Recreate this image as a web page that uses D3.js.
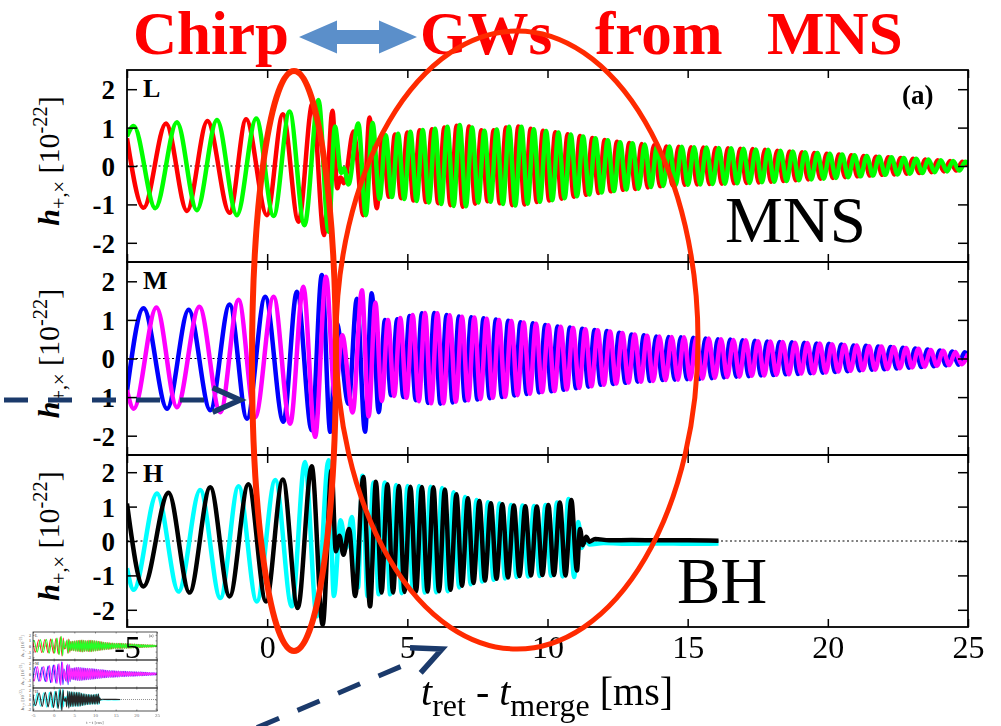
<!DOCTYPE html>
<html lang="en">
<head>
<meta charset="UTF-8">
<title>GW waveforms L / M / H</title>
<script src="https://d3js.org/d3.v7.min.js"></script>
<style>
  body { margin: 0; background: #fff; }
  svg { display: block; }
  svg text { font-family: "Liberation Serif", "Times New Roman", Times, serif; }
</style>
</head>
<body>
<svg id="chart"></svg>
<script>
// ---- data: waveform extrema [t_ret - t_merge (ms), h (1e-22)] ----
const xTicks = [-5, 0, 5, 10, 15, 20, 25];
const yTicks = [-2, -1, 0, 1, 2];
const titleWords = ["Chirp", "GWs", "from", "MNS"];

const lRed = [[-5.00,0.72],[-4.41,-1.09],[-3.61,1.11],[-2.86,-1.17],[-2.13,1.17],[-1.34,-1.22],[-0.75,1.22],[-0.01,-1.28],
  [0.56,1.35],[1.12,-1.45],[1.62,1.64],[2.03,-1.80],[2.33,1.44],[2.50,-0.58],[2.62,-0.30],[2.74,-0.45],
  [3.08,0.90],[3.43,-1.28],[3.65,1.26],[3.91,-1.10],
  [4.12,0.78],[4.34,-0.80],[4.56,0.82],[4.78,-0.84],[5.00,0.87],[5.22,-0.90],[5.44,0.93],[5.66,-0.94],
  [5.88,0.96],[6.10,-0.97],[6.32,1.00],[6.54,-1.02],[6.76,1.05],[6.98,-1.06],[7.20,1.03],[7.42,-0.98],
  [7.64,0.93],[7.86,-0.92],[8.08,0.93],[8.30,-0.97],[8.52,1.00],[8.74,-1.02],[8.96,1.03],[9.18,-1.00],
  [9.40,0.97],[9.62,-0.94],[9.84,0.92],[10.06,-0.90],[10.28,0.88],[10.50,-0.85],[10.72,0.83],[10.94,-0.80],
  [11.16,0.78],[11.38,-0.75],[11.60,0.73],[11.82,-0.70],[12.04,0.68],[12.26,-0.66],[12.48,0.63],[12.70,-0.62],
  [12.92,0.60],[13.14,-0.60],[13.36,0.57],[13.58,-0.56],[13.80,0.54],[14.02,-0.53],[14.24,0.51],[14.46,-0.50],
  [14.68,0.50],[14.90,-0.49],[15.12,0.49],[15.34,-0.48],[15.56,0.48],[15.78,-0.47],[16.00,0.47],[16.22,-0.46],
  [16.44,0.46],[16.66,-0.45],[16.88,0.45],[17.10,-0.44],[17.32,0.44],[17.54,-0.43],[17.76,0.42],[17.98,-0.41],
  [18.20,0.40],[18.42,-0.39],[18.64,0.38],[18.86,-0.37],[19.08,0.36],[19.30,-0.35],[19.52,0.34],[19.74,-0.33],
  [19.96,0.32],[20.18,-0.31],[20.40,0.30],[20.62,-0.29],[20.84,0.28],[21.06,-0.27],[21.28,0.26],[21.50,-0.25],
  [21.72,0.24],[21.94,-0.23],[22.16,0.23],[22.38,-0.22],[22.60,0.21],[22.82,-0.20],[23.04,0.19],[23.26,-0.18],
  [23.48,0.17],[23.70,-0.16],[23.92,0.15],[24.14,-0.14],[24.36,0.13],[24.58,-0.12],[24.80,0.11],[25.00,0.02]];

const lGreen = [[-5.00,0.77],[-4.76,1.04],[-3.99,-1.10],[-3.22,1.14],[-2.51,-1.15],[-1.79,1.20],[-1.08,-1.28],[-0.39,1.24],
  [0.23,-1.30],[0.80,1.42],[1.33,-1.54],[1.83,1.72],[2.19,-1.71],[2.42,1.03],[2.64,-0.18],[2.74,-0.06],
  [2.90,-0.48],[3.25,1.11],[3.52,-1.28],[3.76,1.12],[4.01,-0.86],
  [4.23,0.80],[4.45,-0.81],[4.67,0.84],[4.89,-0.86],[5.11,0.89],[5.33,-0.91],[5.55,0.94],[5.77,-0.95],
  [5.99,0.97],[6.21,-0.99],[6.43,1.02],[6.65,-1.04],[6.87,1.07],[7.09,-1.05],[7.31,1.00],[7.53,-0.95],
  [7.75,0.92],[7.97,-0.93],[8.19,0.95],[8.41,-0.99],[8.63,1.02],[8.85,-1.03],[9.07,1.02],[9.29,-0.98],
  [9.51,0.96],[9.73,-0.93],[9.95,0.91],[10.17,-0.89],[10.39,0.87],[10.61,-0.84],[10.83,0.82],[11.05,-0.79],
  [11.27,0.77],[11.49,-0.74],[11.71,0.72],[11.93,-0.69],[12.15,0.67],[12.37,-0.65],[12.59,0.62],[12.81,-0.61],
  [13.03,0.59],[13.25,-0.59],[13.47,0.56],[13.69,-0.55],[13.91,0.53],[14.13,-0.52],[14.35,0.51],[14.57,-0.50],
  [14.79,0.50],[15.01,-0.49],[15.23,0.49],[15.45,-0.48],[15.67,0.48],[15.89,-0.47],[16.11,0.47],[16.33,-0.46],
  [16.55,0.46],[16.77,-0.45],[16.99,0.45],[17.21,-0.44],[17.43,0.43],[17.65,-0.42],[17.87,0.42],[18.09,-0.41],
  [18.31,0.40],[18.53,-0.39],[18.75,0.38],[18.97,-0.37],[19.19,0.36],[19.41,-0.35],[19.63,0.34],[19.85,-0.33],
  [20.07,0.32],[20.29,-0.31],[20.51,0.30],[20.73,-0.29],[20.95,0.28],[21.17,-0.27],[21.39,0.26],[21.61,-0.25],
  [21.83,0.24],[22.05,-0.23],[22.27,0.23],[22.49,-0.22],[22.71,0.21],[22.93,-0.20],[23.15,0.19],[23.37,-0.18],
  [23.59,0.17],[23.81,-0.16],[24.03,0.15],[24.25,-0.14],[24.47,0.13],[24.69,-0.12],[24.91,0.11],[25.00,0.06]];

const mBlue = [[-5.00,-0.85],[-4.41,1.30],[-3.57,-1.30],[-2.80,1.26],[-2.03,-1.34],[-1.34,1.40],[-0.72,-1.56],[-0.07,1.60],
  [0.58,-1.64],[1.06,1.73],[1.59,-1.86],[1.95,2.16],[2.25,-1.90],[2.48,0.91],[2.90,-1.17],[3.20,1.55],
  [3.49,-1.90],[3.73,1.69],[3.98,-1.39],
  [4.20,1.00],[4.42,-0.95],[4.64,1.02],[4.86,-1.00],[5.08,1.10],[5.30,-1.08],[5.52,1.17],[5.74,-1.15],
  [5.96,1.18],[6.18,-1.17],[6.40,1.13],[6.62,-1.14],[6.84,1.09],[7.06,-1.09],[7.28,1.07],[7.50,-1.06],
  [7.72,1.04],[7.94,-1.03],[8.16,1.01],[8.38,-1.00],[8.60,0.98],[8.82,-0.96],[9.04,0.94],[9.26,-0.92],
  [9.48,0.91],[9.70,-0.88],[9.92,0.87],[10.14,-0.85],[10.36,0.83],[10.58,-0.81],[10.80,0.80],[11.02,-0.77],
  [11.24,0.77],[11.46,-0.73],[11.68,0.74],[11.90,-0.68],[12.12,0.71],[12.34,-0.66],[12.56,0.67],[12.78,-0.63],
  [13.00,0.62],[13.22,-0.60],[13.44,0.60],[13.66,-0.58],[13.88,0.57],[14.10,-0.56],[14.32,0.56],[14.54,-0.55],
  [14.76,0.55],[14.98,-0.54],[15.20,0.54],[15.42,-0.53],[15.64,0.52],[15.86,-0.51],[16.08,0.50],[16.30,-0.49],
  [16.52,0.49],[16.74,-0.47],[16.96,0.47],[17.18,-0.46],[17.40,0.46],[17.62,-0.44],[17.84,0.44],[18.06,-0.43],
  [18.28,0.43],[18.50,-0.41],[18.72,0.42],[18.94,-0.40],[19.16,0.41],[19.38,-0.38],[19.60,0.39],[19.82,-0.37],
  [20.04,0.38],[20.26,-0.35],[20.48,0.36],[20.70,-0.33],[20.92,0.34],[21.14,-0.31],[21.36,0.33],[21.58,-0.29],
  [21.80,0.31],[22.02,-0.28],[22.24,0.30],[22.46,-0.26],[22.68,0.28],[22.90,-0.24],[23.12,0.26],[23.34,-0.22],
  [23.56,0.23],[23.78,-0.20],[24.00,0.21],[24.22,-0.18],[24.44,0.18],[24.66,-0.16],[24.88,0.16],[25.00,0.10]];

const mMagenta = [[-5.00,-0.82],[-4.76,-1.30],[-3.95,1.32],[-3.22,-1.26],[-2.42,1.34],[-1.67,-1.39],[-1.02,1.52],[-0.43,-1.52],
  [0.23,1.60],[0.82,-1.69],[1.29,1.86],[1.71,-2.03],[2.10,2.12],[2.42,-1.00],[2.68,0.60],[3.05,-1.40],
  [3.38,1.77],[3.62,-1.50],[3.86,1.45],[4.09,-1.10],
  [4.31,1.00],[4.53,-0.97],[4.75,1.05],[4.97,-1.02],[5.19,1.13],[5.41,-1.11],[5.63,1.18],[5.85,-1.16],
  [6.07,1.17],[6.29,-1.16],[6.51,1.12],[6.73,-1.12],[6.95,1.08],[7.17,-1.08],[7.39,1.06],[7.61,-1.05],
  [7.83,1.03],[8.05,-1.02],[8.27,1.00],[8.49,-0.99],[8.71,0.97],[8.93,-0.95],[9.15,0.93],[9.37,-0.91],
  [9.59,0.90],[9.81,-0.87],[10.03,0.86],[10.25,-0.84],[10.47,0.82],[10.69,-0.80],[10.91,0.79],[11.13,-0.76],
  [11.35,0.76],[11.57,-0.72],[11.79,0.73],[12.01,-0.68],[12.23,0.70],[12.45,-0.65],[12.67,0.66],[12.89,-0.62],
  [13.11,0.62],[13.33,-0.60],[13.55,0.59],[13.77,-0.58],[13.99,0.57],[14.21,-0.56],[14.43,0.56],[14.65,-0.55],
  [14.87,0.55],[15.09,-0.54],[15.31,0.53],[15.53,-0.52],[15.75,0.52],[15.97,-0.50],[16.19,0.50],[16.41,-0.48],
  [16.63,0.48],[16.85,-0.47],[17.07,0.47],[17.29,-0.45],[17.51,0.45],[17.73,-0.44],[17.95,0.44],[18.17,-0.42],
  [18.39,0.43],[18.61,-0.41],[18.83,0.41],[19.05,-0.39],[19.27,0.40],[19.49,-0.38],[19.71,0.39],[19.93,-0.36],
  [20.15,0.37],[20.37,-0.34],[20.59,0.35],[20.81,-0.32],[21.03,0.34],[21.25,-0.30],[21.47,0.32],[21.69,-0.29],
  [21.91,0.31],[22.13,-0.27],[22.35,0.29],[22.57,-0.25],[22.79,0.27],[23.01,-0.23],[23.23,0.25],[23.45,-0.21],
  [23.67,0.22],[23.89,-0.19],[24.11,0.20],[24.33,-0.17],[24.55,0.17],[24.77,-0.15],[25.00,0.12]];

const hCyan = [[-5.00,-0.79],[-4.76,-1.42],[-3.93,1.38],[-3.16,-1.47],[-2.39,1.48],[-1.67,-1.66],[-1.02,1.59],[-0.37,-1.76],
  [0.29,1.77],[0.88,-1.90],[1.35,2.30],[1.77,-2.19],[2.19,2.35],[2.38,-1.60],[2.62,0.60],[2.82,-0.20],
  [3.02,0.70],[3.24,-1.35],[3.40,1.90],[3.58,-1.60],[3.79,1.70],[3.98,-1.55],
  [4.19,1.70],[4.39,-1.55],[4.60,1.63],[4.80,-1.52],[5.01,1.60],[5.21,-1.50],[5.42,1.60],[5.62,-1.50],
  [5.83,1.58],[6.03,-1.49],[6.24,1.54],[6.44,-1.46],[6.65,1.42],[6.85,-1.35],[7.06,1.28],[7.26,-1.26],
  [7.47,1.19],[7.67,-1.18],[7.88,1.13],[8.08,-1.13],[8.29,1.09],[8.49,-1.09],[8.70,1.05],[8.90,-1.05],
  [9.11,1.03],[9.31,-1.03],[9.52,1.02],[9.72,-1.02],[9.93,1.05],[10.13,-1.01],[10.34,1.12],[10.54,-1.03],
  [10.75,1.22],[10.95,-1.05],[11.10,0.55],[11.22,-0.20],[11.34,0.05],[11.50,-0.10],[12.00,-0.06],[13.00,-0.08],
  [14.00,-0.07],[15.00,-0.08],[16.10,-0.07]];

const hBlack = [[-5.00,1.09],[-4.41,-1.32],[-3.52,1.40],[-2.77,-1.50],[-2.03,1.56],[-1.34,-1.61],[-0.67,1.65],[-0.04,-1.76],
  [0.56,1.79],[1.09,-1.95],[1.59,2.17],[1.98,-2.43],[2.30,2.06],[2.45,-0.30],[2.58,0.15],[2.72,-0.40],
  [2.92,0.35],[3.14,-1.60],[3.43,1.86],[3.67,-1.90],[3.88,1.72],[4.08,-1.50],
  [4.29,1.65],[4.49,-1.50],[4.70,1.60],[4.90,-1.48],[5.11,1.58],[5.31,-1.47],[5.52,1.57],[5.72,-1.47],
  [5.93,1.56],[6.13,-1.46],[6.34,1.50],[6.54,-1.42],[6.75,1.36],[6.95,-1.30],[7.16,1.24],[7.36,-1.22],
  [7.57,1.16],[7.77,-1.15],[7.98,1.10],[8.18,-1.10],[8.39,1.07],[8.59,-1.06],[8.80,1.03],[9.00,-1.02],
  [9.21,1.01],[9.41,-1.00],[9.62,1.00],[9.82,-0.99],[10.03,1.05],[10.23,-0.99],[10.44,1.12],[10.64,-1.00],
  [10.85,1.19],[11.05,-0.86],[11.16,0.35],[11.26,-0.12],[11.38,0.12],[11.50,-0.02],[11.70,0.06],[12.20,0.02],
  [13.00,0.03],[14.00,0.02],[15.00,0.02],[16.10,0.01]];

// ---- setup ----
const width = 1001, height = 726;
const serif = '"Liberation Serif", "Times New Roman", Times, serif';
const svg = d3.select("#chart").attr("width", width).attr("height", height);
svg.append("rect").attr("width", width).attr("height", height).attr("fill", "#fff");

const series = {
  L: [[lRed, "#ff0000"], [lGreen, "#00ff00"]],
  M: [[mBlue, "#0000ff"], [mMagenta, "#ff00ff"]],
  H: [[hCyan, "#00ffff"], [hBlack, "#000000"]]
};

// draws a stack of three panels sharing the x scale
function drawStack(root, xs, boxes, o) {
  const [x0, x1] = xs.range();
  boxes.forEach((p, i) => {
    const y = d3.scaleLinear().domain([-2.5, 2.5]).range([p.bottom, p.top]);
    const clipId = `clip-${o.id}-${i}`;
    root.append("clipPath").attr("id", clipId)
      .append("rect").attr("x", x0).attr("y", p.top).attr("width", x1 - x0).attr("height", p.bottom - p.top);

    // dotted zero line
    root.append("line")
      .attr("x1", x0).attr("x2", x1).attr("y1", y(0)).attr("y2", y(0))
      .attr("stroke", "#000").attr("stroke-width", o.zw).attr("stroke-dasharray", o.zdash);

    const line = d3.line().x(d => xs(d[0])).y(d => y(d[1])).curve(d3.curveMonotoneX);
    root.append("g").attr("clip-path", `url(#${clipId})`)
      .selectAll("path").data(series[p.name]).join("path")
      .attr("d", d => line(d[0]))
      .attr("fill", "none")
      .attr("stroke", d => d[1])
      .attr("stroke-width", o.lw)
      .attr("stroke-linejoin", "round");

    // inward ticks on all sides
    const ticks = (axis, tx, ty) => root.append("g")
      .attr("transform", `translate(${tx},${ty})`)
      .call(axis)
      .call(a => a.select(".domain").remove())
      .call(a => a.selectAll(".tick line").attr("stroke", "#000").attr("stroke-width", o.tw));
    ticks(d3.axisTop(xs).tickValues(xTicks).tickSize(-o.xt).tickFormat(""), 0, p.top);
    ticks(d3.axisBottom(xs).tickValues(xTicks).tickSize(-o.xt).tickFormat(""), 0, p.bottom);
    ticks(d3.axisRight(y).tickValues(yTicks).tickSize(-o.yt).tickFormat(""), x1, 0);
    const left = ticks(d3.axisLeft(y).tickValues(yTicks).tickSize(-o.yt).tickPadding(o.ypad)
      .tickFormat(d => String(d)), x0, 0);
    left.selectAll(".tick text")
      .attr("font-family", serif).attr("font-size", o.yfs)
      .attr("font-weight", "bold").attr("fill", o.ink).attr("dy", "0.35em");

    root.append("rect")
      .attr("x", x0).attr("y", p.top).attr("width", x1 - x0).attr("height", p.bottom - p.top)
      .attr("fill", "none").attr("stroke", "#000").attr("stroke-width", o.fw);

    root.append("text")
      .attr("x", x0 + o.nameDx).attr("y", p.top + o.nameDy)
      .attr("font-size", o.nameFs).attr("font-weight", "bold").attr("fill", o.ink)
      .text(p.name);

    // y title
    const yt = root.append("text")
      .attr("transform", `translate(${o.ytx},${(p.top + p.bottom) / 2 - o.ytShift}) rotate(-90)`)
      .attr("text-anchor", "middle").attr("font-size", o.ytFs).attr("fill", o.ink);
    yt.append("tspan").attr("font-style", "italic").attr("font-weight", "bold").text("h");
    yt.append("tspan").attr("font-size", o.ytFs * 0.68).attr("dy", o.ytFs * 0.22).text("+,×");
    yt.append("tspan").attr("dy", -o.ytFs * 0.22).text(" [10");
    yt.append("tspan").attr("font-size", o.ytFs * 0.68).attr("dy", -o.ytFs * 0.4).text("-22");
    yt.append("tspan").attr("dy", o.ytFs * 0.4).text("]");

    if (i === boxes.length - 1) {
      const bottom = root.append("g").attr("transform", `translate(0,${p.bottom})`)
        .call(d3.axisBottom(xs).tickValues(xTicks).tickSize(0).tickPadding(o.xpad).tickFormat(d => String(d)))
        .call(a => a.select(".domain").remove());
      bottom.selectAll(".tick text")
        .attr("font-family", serif).attr("font-size", o.xfs).attr("fill", o.ink);
    }
  });
  if (o.panelTag) {
    root.append("text").attr("x", x1 - o.panelTag.dx).attr("y", boxes[0].top + o.panelTag.dy)
      .attr("font-size", o.panelTag.fs).attr("font-weight", "bold").attr("fill", o.ink).text("(a)");
  }
}

// ---- small copy of the figure in the lower left ----
const thumbX = d3.scaleLinear().domain([-5, 25]).range([33, 157]);
const thumb = svg.append("g").attr("opacity", 0.85);
thumb.append("rect").attr("x", 8).attr("y", 628).attr("width", 152).attr("height", 98).attr("fill", "#fff");
drawStack(thumb, thumbX, [
  { name: "L", top: 632, bottom: 660 },
  { name: "M", top: 660, bottom: 688 },
  { name: "H", top: 688, bottom: 711 }
], {
  id: "thumb", lw: 1.1, zw: 0.5, zdash: "1,1", tw: 0.5, xt: 1.5, yt: 1.5, ypad: 2, yfs: 4,
  fw: 0.8, nameDx: 2, nameDy: 5, nameFs: 4, ytx: 24, ytShift: 0, ytFs: 5, xpad: 2, xfs: 5,
  ink: "#555", panelTag: { dx: 8, dy: 5, fs: 4 }
});
thumb.append("text").attr("x", 95).attr("y", 724).attr("text-anchor", "middle")
  .attr("font-size", 5).attr("fill", "#555")
  .text("t   - t      [ms]");

// ---- main figure ----
const x = d3.scaleLinear().domain([-5, 25]).range([127, 968]);
const main = svg.append("g");
drawStack(main, x, [
  { name: "L", top: 70, bottom: 262 },
  { name: "M", top: 262, bottom: 455 },
  { name: "H", top: 455, bottom: 627 }
], {
  id: "main", lw: 4.5, zw: 1, zdash: "2,2.5", tw: 1.5, xt: 8, yt: 10, ypad: 12, yfs: 27,
  fw: 1.8, nameDx: 16, nameDy: 27, nameFs: 26, ytx: 59, ytShift: 5, ytFs: 30, xpad: 8, xfs: 32,
  ink: "#000", panelTag: { dx: 66, dy: 34, fs: 27 }
});

// x-axis title
const xt = svg.append("text").attr("x", 421).attr("y", 705).attr("font-size", 40);
xt.append("tspan").attr("font-style", "italic").text("t");
xt.append("tspan").attr("font-size", 32).attr("dy", 11).text("ret");
xt.append("tspan").attr("dy", -11).text(" - ");
xt.append("tspan").attr("font-style", "italic").text("t");
xt.append("tspan").attr("font-size", 32).attr("dy", 11).text("merge");
xt.append("tspan").attr("dy", -11).text(" [ms]");

// big labels inside panels
svg.append("text").attr("x", 725).attr("y", 242).attr("font-size", 65).text("MNS");
svg.append("text").attr("x", 677).attr("y", 603).attr("font-size", 65).text("BH");

// ---- annotations ----
const red = "#ff2a00", navy = "#1b3a6b";
const titleX = [133, 420, 595, 767];
svg.selectAll(".title").data(titleWords).join("text")
  .attr("class", "title")
  .attr("x", (d, i) => titleX[i]).attr("y", 54)
  .attr("font-size", 61).attr("font-weight", "bold").attr("fill", "#ff0000")
  .text(d => d);

// double-headed block arrow between "Chirp" and "GWs"
svg.append("path")
  .attr("d", "M299,37 L337,20.5 L337,30 L379,30 L379,20.5 L417,37 L379,53.5 L379,44 L337,44 L337,53.5 Z")
  .attr("fill", "#5b8fca");

svg.append("ellipse").attr("cx", 294).attr("cy", 361).attr("rx", 42).attr("ry", 290)
  .attr("fill", "none").attr("stroke", red).attr("stroke-width", 6);
svg.append("ellipse").attr("cx", 517).attr("cy", 340).attr("rx", 181).attr("ry", 309)
  .attr("fill", "none").attr("stroke", red).attr("stroke-width", 5);

function dashedArrow(from, tip, headLen, headAngle) {
  const dx = tip[0] - from[0], dy = tip[1] - from[1];
  const len = Math.hypot(dx, dy), ux = dx / len, uy = dy / len;
  svg.append("line")
    .attr("x1", from[0]).attr("y1", from[1])
    .attr("x2", tip[0] - ux * 26).attr("y2", tip[1] - uy * 26)
    .attr("stroke", navy).attr("stroke-width", 5).attr("stroke-dasharray", "24,20");
  const arm = s => {
    const a = Math.atan2(-uy, -ux) + s * headAngle;
    return [tip[0] + headLen * Math.cos(a), tip[1] + headLen * Math.sin(a)];
  };
  svg.append("path")
    .attr("d", d3.line()([arm(1), tip, arm(-1)]))
    .attr("fill", "none").attr("stroke", navy).attr("stroke-width", 5.5);
}
dashedArrow([4, 400], [240, 400], 30, 0.42);
dashedArrow([176, 762], [442, 649], 32, 0.44);
</script>
</body>
</html>
